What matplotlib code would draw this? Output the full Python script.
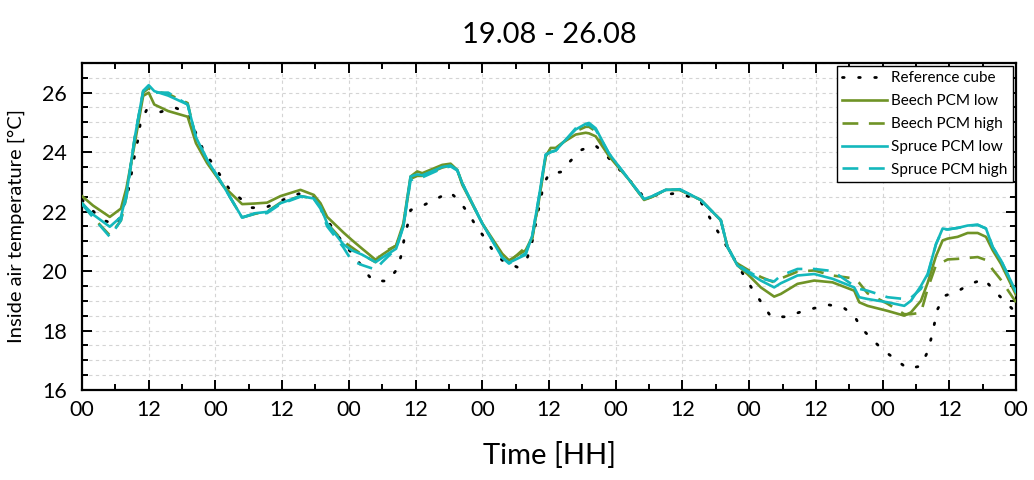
import matplotlib
matplotlib.use("Agg")
import matplotlib.pyplot as plt
from matplotlib.ticker import MultipleLocator, FixedLocator

plt.rcParams['font.family'] = ['Lato', 'DejaVu Sans']

title = "19.08 - 26.08"
xlabel = "Time [HH]"
ylabel = "Inside air temperature [°C]"
series_names = ["Reference cube", "Beech PCM low", "Beech PCM high",
                "Spruce PCM low", "Spruce PCM high"]
xtick_pos = [0, 12, 24, 36, 48, 60, 72, 84, 96, 108, 120, 132, 144, 156, 168]
xtick_labels = ["00", "12", "00", "12", "00", "12", "00", "12", "00", "12",
                "00", "12", "00", "12", "00"]

# Reference cube (hours, temperature)
ref_hours = [0, 2.4, 4, 6.2, 8.1, 8.7, 9.6, 10.2, 10.5, 11.6, 14.1, 16.8, 18.9,
             21.9, 23.7, 25.2, 26.7, 30.6, 33.0, 35.7, 39, 42, 44.1, 47.1,
             49.2, 50.7, 52.3, 55.0, 56.7, 57.5, 57.9, 58.6, 59.1, 61.2, 63.5,
             66.2, 67.8, 69.5, 70.8, 72.3, 73.8, 75.6, 78.3, 80.1, 80.9, 81.9,
             82.5, 83.0, 84.0, 86.1, 87.9, 89.9, 92.3, 94.2, 96.1, 98.0, 101,
             103, 106.8, 108.9, 111.3, 113.5, 116.7, 119.4, 120.9, 122.4,
             123.9, 126.6, 129.0, 131.7, 134.4, 136.9, 138.9, 140.1, 141.9,
             144.0, 146.1, 148.5, 150.8, 152.1, 152.8, 153.9, 155.2, 157.5,
             159.8, 162.3, 163.9, 165.9, 168]
ref_temp = [22.4, 21.94, 21.7, 21.55, 22.5, 23.07, 24.03, 24.53, 25.0, 25.41,
            25.35, 25.49, 25.32, 24.03, 23.56, 23.12, 22.7, 22.13, 22.13,
            22.36, 22.6, 22.45, 21.71, 20.9, 20.47, 20.04, 19.68, 19.66, 20.07,
            20.58, 21.03, 21.58, 22.05, 22.19, 22.41, 22.65, 22.37, 21.94,
            21.54, 21.15, 20.72, 20.36, 20.13, 20.45, 20.92, 21.88, 22.41,
            22.9, 23.27, 23.33, 23.71, 24.08, 24.23, 23.91, 23.52, 23.16, 22.5,
            22.55, 22.61, 22.52, 22.33, 21.6, 20.6, 19.74, 19.3, 18.89, 18.47,
            18.46, 18.61, 18.75, 18.86, 18.78, 18.5, 18.1, 17.74, 17.36, 17.06,
            16.72, 16.8, 17.28, 17.78, 18.72, 19.17, 19.32, 19.57, 19.73,
            19.37, 19.0, 18.6]

# PCM cubes share one time axis
hours = [0, 2, 5, 7, 8, 9.5, 11, 12, 13, 15.5, 19, 20.5, 22.5, 25.5, 28.8, 31,
         33.3, 35.7, 39.3, 41.7, 42.9, 44.1, 47, 48.5, 50.4, 52.8, 54, 56.5,
         57.8, 59.1, 60.3, 61.2, 64.8, 66.3, 67.5, 68.4, 72, 75.6, 76.8, 79.8,
         81, 82.2, 83.4, 84.3, 85.2, 86.4, 88.8, 90.6, 91.2, 92.4, 94.8, 98.4,
         101.1, 102.6, 105, 107.5, 111.3, 114.9, 116.1, 117.9, 119.7, 122.1,
         124.5, 125.7, 128.7, 131.7, 135, 138.9, 139.8, 141.3, 144.9, 147.9,
         149.1, 150.9, 152.1, 153.6, 154.8, 155.7, 157.5, 159.3, 161.1, 162.6,
         163.8, 165.3, 168]
beech_low = [22.52, 22.2, 21.82, 22.1, 22.8, 24.3, 25.89, 26.0, 25.6, 25.38,
             25.19, 24.3, 23.63, 22.84, 22.25, 22.27, 22.3, 22.52, 22.73,
             22.56, 22.28, 21.82, 21.3, 21.05, 20.75, 20.38, 20.55, 20.86,
             21.6, 23.18, 23.35, 23.29, 23.57, 23.61, 23.4, 22.9, 21.6, 20.58,
             20.36, 20.7, 21.15, 22.39, 23.86, 24.14, 24.14, 24.31, 24.59,
             24.65, 24.63, 24.53, 23.86, 23.07, 22.39, 22.5, 22.73, 22.73,
             22.39, 21.71, 20.81, 20.19, 19.9, 19.45, 19.14, 19.23, 19.57,
             19.68, 19.62, 19.34, 18.95, 18.83, 18.66, 18.5, 18.61, 19.0, 19.6,
             20.5, 21.03, 21.09, 21.15, 21.28, 21.28, 21.15, 20.7, 20.24, 19.2]
beech_high = [22.3, 21.8, 21.2, 21.7, 22.5, 24.5, 26.0, 26.15, 26.05, 25.95,
              25.65, 24.45, 23.7, 22.84, 21.8, 21.92, 22.0, 22.3, 22.52, 22.44,
              22.15, 21.6, 21.0, 20.8, 20.55, 20.3, 20.62, 20.85, 21.5, 23.1,
              23.2, 23.2, 23.48, 23.55, 23.4, 22.95, 21.6, 20.5, 20.3, 20.8,
              21.1, 22.4, 23.85, 24.1, 24.1, 24.3, 24.7, 24.85, 24.85, 24.7,
              23.9, 23.07, 22.4, 22.5, 22.73, 22.73, 22.39, 21.71, 20.81,
              20.25, 20.05, 19.8, 19.62, 19.75, 19.98, 20.02, 19.85, 19.75,
              19.6, 19.25, 18.9, 18.55, 18.55, 18.6, 19.4, 20.2, 20.3, 20.39,
              20.41, 20.44, 20.47, 20.37, 20.05, 19.7, 18.95]
spruce_low = [22.28, 21.9, 21.49, 21.82, 22.6, 24.5, 26.06, 26.25, 26.05,
              25.9, 25.6, 24.5, 23.74, 22.84, 21.8, 21.94, 21.99, 22.28, 22.52,
              22.44, 22.16, 21.6, 20.9, 20.7, 20.55, 20.3, 20.45, 20.75, 21.5,
              23.18, 23.25, 23.22, 23.5, 23.55, 23.4, 22.95, 21.6, 20.45,
              20.28, 20.55, 21.2, 22.5, 23.92, 24.0, 24.05, 24.3, 24.76, 24.95,
              24.98, 24.8, 23.95, 23.07, 22.42, 22.52, 22.73, 22.75, 22.39,
              21.71, 20.81, 20.19, 19.96, 19.68, 19.45, 19.59, 19.85, 19.9,
              19.74, 19.45, 19.12, 19.06, 18.95, 18.83, 19.0, 19.5, 19.9,
              20.9, 21.43, 21.4, 21.45, 21.53, 21.56, 21.43, 20.81, 20.36,
              19.3]
spruce_high = [22.25, 21.8, 21.15, 21.7, 22.5, 24.5, 26.05, 26.2, 26.0, 26.0,
               25.6, 24.5, 23.75, 22.84, 21.8, 21.92, 21.95, 22.25, 22.5,
               22.42, 22.1, 21.5, 20.8, 20.35, 20.2, 20.05, 20.3, 20.75, 21.5,
               23.05, 23.15, 23.15, 23.45, 23.52, 23.38, 22.95, 21.6, 20.45,
               20.25, 20.6, 21.2, 22.5, 23.9, 24.0, 24.05, 24.28, 24.8, 24.9,
               24.92, 24.75, 23.95, 23.07, 22.42, 22.52, 22.73, 22.75, 22.39,
               21.71, 20.81, 20.22, 20.0, 19.75, 19.65, 19.85, 20.07, 20.07,
               20.0, 19.5, 19.4, 19.34, 19.12, 19.06, 19.1, 19.4, 19.85, 20.9,
               21.4, 21.4, 21.45, 21.52, 21.55, 21.43, 20.81, 20.36, 19.3]

olive = "#6f9326"
cyan = "#14b8bc"

fig = plt.figure(figsize=(10.34, 4.8), dpi=100)
ax = fig.add_axes([0.0793, 0.1875, 0.9033, 0.6815])

ax.plot(ref_hours, ref_temp, color="black", lw=2.0, linestyle=(0, (0.6, 5.2)),
        dash_capstyle="round", label=series_names[0], zorder=3)
ax.plot(hours, beech_low, color=olive, lw=1.9, label=series_names[1], zorder=4)
ax.plot(hours, beech_high, color=olive, lw=1.9, linestyle=(0, (6, 4)),
        label=series_names[2], zorder=4)
ax.plot(hours, spruce_low, color=cyan, lw=1.9, label=series_names[3], zorder=5)
ax.plot(hours, spruce_high, color=cyan, lw=1.9, linestyle=(0, (6, 4)),
        label=series_names[4], zorder=5)

ax.set_xlim(0, 168)
ax.set_ylim(16, 27)
ax.xaxis.set_major_locator(FixedLocator(xtick_pos))
ax.set_xticklabels(xtick_labels)
ax.xaxis.set_minor_locator(MultipleLocator(6))
ax.yaxis.set_major_locator(MultipleLocator(2))
ax.yaxis.set_minor_locator(MultipleLocator(0.5))

ax.grid(which="major", axis="x", color="#d4d4d4", lw=0.8, linestyle=(0, (3, 3)))
ax.grid(which="both", axis="y", color="#d4d4d4", lw=0.8, linestyle=(0, (3, 3)))
ax.set_axisbelow(True)

ax.tick_params(which="both", direction="in", top=True, right=True, width=1.4,
               color="black")
ax.tick_params(which="major", length=7, labelsize=15.5)
ax.tick_params(which="minor", length=4)
ax.tick_params(axis="x", which="major", pad=7)
ax.tick_params(axis="y", which="major", pad=11)
for s in ax.spines.values():
    s.set_linewidth(1.6)
    s.set_color("black")

ax.set_title(title, fontsize=21, pad=14)
ax.set_xlabel(xlabel, fontsize=21, labelpad=16)
ax.set_ylabel(ylabel, fontsize=14.5, labelpad=12)

leg = ax.legend(loc="upper right", fontsize=11, frameon=True, fancybox=False,
                edgecolor="black", framealpha=1, borderaxespad=0.2,
                handlelength=2.9, handletextpad=0.3, labelspacing=0.58,
                borderpad=0.35)
leg.get_frame().set_linewidth(1.0)

fig.savefig("out.png", dpi=100)
